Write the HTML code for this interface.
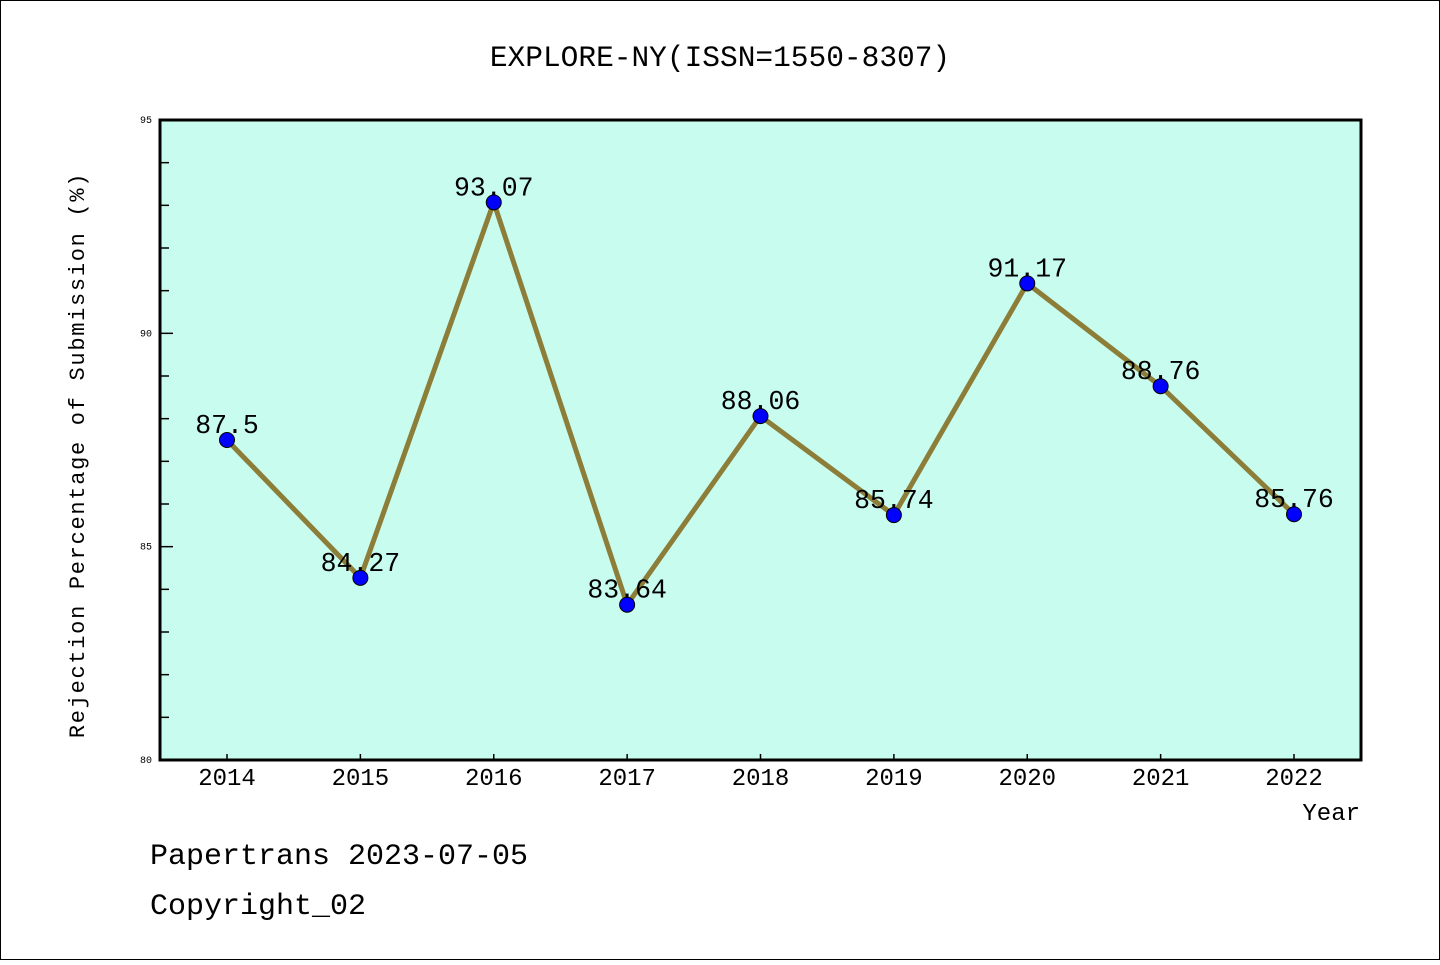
<!DOCTYPE html>
<html><head><meta charset="utf-8"><style>
body{margin:0;background:#fff}
svg text{font-family:"Liberation Mono","WenQuanYi Zen Hei",monospace;fill:#000}
</style></head><body>
<svg width="1440" height="960" xmlns="http://www.w3.org/2000/svg">
<rect x="0.5" y="0.5" width="1439" height="959" fill="#fff" stroke="#000"/>
<text x="720" y="66" font-size="29.5" text-anchor="middle">EXPLORE-NY(ISSN=1550-8307)</text>
<rect x="160" y="120" width="1201" height="640" fill="#c8fcee"/>
<g id="yticks"></g>
<g id="xticks"></g>
<g id="series"></g>
<rect x="160" y="120" width="1201" height="640" fill="none" stroke="#000" stroke-width="3"/>
<text transform="translate(84,455) rotate(-90)" font-size="22" text-anchor="middle" letter-spacing="1.7">Rejection Percentage of Submission (%)</text>
<text x="1360" y="820" font-size="24" text-anchor="end">Year</text>
<text x="150" y="864" font-size="30">Papertrans 2023-07-05</text>
<text x="150" y="914" font-size="30">Copyright_02</text>
</svg>
<script>
const years=["2014","2015","2016","2017","2018","2019","2020","2021","2022"];
const values=[87.5,84.27,93.07,83.64,88.06,85.74,91.17,88.76,85.76];
const labels=["87.5","84.27","93.07","83.64","88.06","85.74","91.17","88.76","85.76"];
const yTicks=[80,85,90,95];
const NS="http://www.w3.org/2000/svg";
const yMin=80,yMax=95,plotTop=120,plotBot=760;
const sy=v=>plotBot-(v-yMin)/(yMax-yMin)*(plotBot-plotTop);
const sx=i=>227+i*(1294-227)/(years.length-1);
function mk(t,a,p){const e=document.createElementNS(NS,t);for(const k in a)e.setAttribute(k,a[k]);p.appendChild(e);return e;}
const yg=document.getElementById('yticks'),xg=document.getElementById('xticks'),sg=document.getElementById('series');
for(let v=yMin;v<=yMax;v++){const major=yTicks.includes(v);
 const l=mk('line',{x1:160,x2:160+(major?13:9),y1:sy(v),y2:sy(v),stroke:'#000','stroke-width':1.5},yg);
 
 
 if(major){const t=mk('text',{x:152,y:sy(v)+3,'font-size':10,'text-anchor':'end'},yg);t.textContent=v;
 
 }}
years.forEach((yr,i)=>{
 const l=mk('line',{x1:sx(i),x2:sx(i),y1:760,y2:754,stroke:'#000','stroke-width':1.5},xg);
 
 
 const t=mk('text',{x:sx(i),y:785,'font-size':24,'text-anchor':'middle'},xg);t.textContent=yr;
 
 });
const pl=mk('polyline',{points:values.map((v,i)=>sx(i)+','+sy(v)).join(' '),fill:'none',stroke:'#8c7d38','stroke-width':5},sg);


values.forEach((v,i)=>{
 const c=mk('circle',{cx:sx(i),cy:sy(v),r:7.5,fill:'#0000ff',stroke:'#000','stroke-width':1},sg);
 
 
 const t=mk('text',{x:sx(i),y:sy(v)-7,'font-size':26.5,'text-anchor':'middle'},sg);t.textContent=labels[i];
 
 });
</script>
</body></html>
